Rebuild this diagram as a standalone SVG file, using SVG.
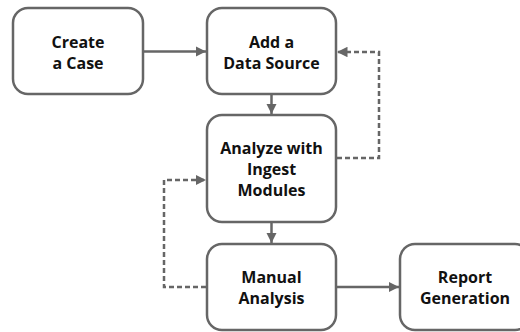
<svg xmlns="http://www.w3.org/2000/svg" width="520" height="332" viewBox="0 0 520 332">
  <defs>
    <marker id="arrow" viewBox="0 0 10 10" refX="10" refY="5" markerWidth="4.2" markerHeight="4.2" orient="auto" markerUnits="strokeWidth">
      <path d="M0,0 L10,5 L0,10 z" fill="#666"/>
    </marker>
    <style>
      .box { fill: #fff; stroke: #666; stroke-width: 2.5; }
      .label { font-family: "Open Sans", "DejaVu Sans", sans-serif; font-weight: bold; font-size: 16px; fill: #111; text-anchor: middle; }
      .edge { fill: none; stroke: #666; stroke-width: 2.5; marker-end: url(#arrow); }
      .dashed { stroke-dasharray: 5 3; }
    </style>
  </defs>
  <rect width="520" height="332" fill="#fff"/>

  <g id="connectors">
    <path class="edge" d="M143,51.5 L206,51.5"/>
    <path class="edge" d="M271.5,94 L271.5,114"/>
    <path class="edge" d="M271.5,222 L271.5,243"/>
    <path class="edge" d="M336,287 L399,287"/>
    <path class="edge dashed" d="M337,158 L379,158 L379,52 L337,52"/>
    <path class="edge dashed" d="M206,287 L164,287 L164,180 L206,180"/>
  </g>

  <g id="create-case">
    <rect class="box" x="13" y="8" width="130" height="86" rx="15"/>
    <text class="label" x="78" y="47.5">Create</text>
    <text class="label" x="78" y="68.5">a Case</text>
  </g>

  <g id="add-data-source">
    <rect class="box" x="207" y="8" width="129" height="86" rx="15"/>
    <text class="label" x="271.5" y="47.5">Add a</text>
    <text class="label" x="271.5" y="68.5">Data Source</text>
  </g>

  <g id="ingest-modules">
    <rect class="box" x="207" y="115" width="129" height="107" rx="15"/>
    <text class="label" x="271.5" y="154">Analyze with</text>
    <text class="label" x="271.5" y="175">Ingest</text>
    <text class="label" x="271.5" y="196">Modules</text>
  </g>

  <g id="manual-analysis">
    <rect class="box" x="207" y="244" width="129" height="86" rx="15"/>
    <text class="label" x="271.5" y="283">Manual</text>
    <text class="label" x="271.5" y="304">Analysis</text>
  </g>

  <g id="report-generation">
    <rect class="box" x="400" y="244" width="130" height="86" rx="15"/>
    <text class="label" x="465" y="283">Report</text>
    <text class="label" x="465" y="304">Generation</text>
  </g>
</svg>
